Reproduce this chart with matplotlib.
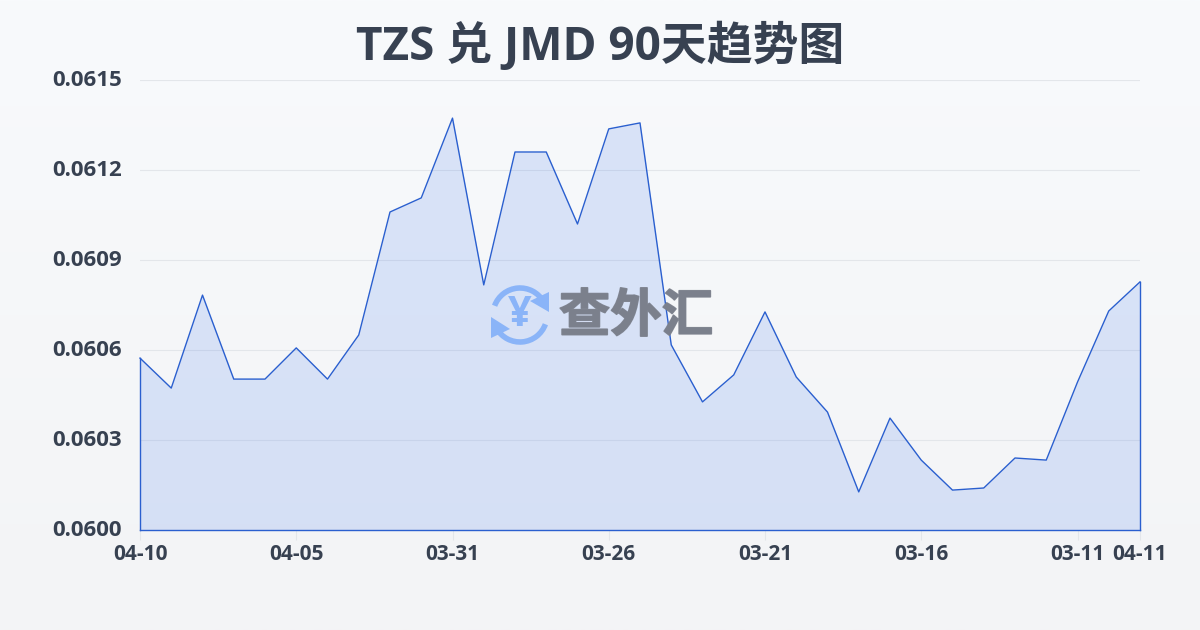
import numpy as np
import matplotlib
matplotlib.use("Agg")
import matplotlib.pyplot as plt
from matplotlib.patches import Arc, Polygon
from matplotlib.transforms import ScaledTranslation
import matplotlib.patheffects as pe

plt.rcParams['font.family'] = ['Open Sans', 'Noto Sans CJK SC', 'DejaVu Sans']

title = "TZS 兑 JMD 90天趋势图"
watermark = "查外汇"
dates = ["04-10", "04-09", "04-08", "04-07", "04-06", "04-05", "04-04", "04-03", "04-02", "04-01",
         "03-31", "03-30", "03-29", "03-28", "03-27", "03-26", "03-25", "03-24", "03-23", "03-22",
         "03-21", "03-20", "03-19", "03-18", "03-17", "03-16", "03-15", "03-14", "03-13", "03-12",
         "03-11", "03-10", "04-11"]
rates = [0.060573, 0.060473, 0.060783, 0.060503, 0.060503, 0.060607, 0.060503, 0.060650,
         0.061060, 0.061107, 0.061373, 0.060817, 0.061260, 0.061260, 0.061020, 0.061337,
         0.061357, 0.060617, 0.060427, 0.060517, 0.060727, 0.060510, 0.060393, 0.060127,
         0.060373, 0.060233, 0.060133, 0.060140, 0.060240, 0.060233, 0.060493, 0.060730,
         0.060827]
y_ticks = [0.0600, 0.0603, 0.0606, 0.0609, 0.0612, 0.0615]
x_tick_idx = [0, 5, 10, 15, 20, 25, 30, 32]

W, H = 1200, 630
fig = plt.figure(figsize=(W / 100, H / 100), dpi=100)

bg = fig.add_axes([0, 0, 1, 1], zorder=0)
grad = np.linspace(0, 1, 256)[:, None, None]
top = np.array([0xf8, 0xfa, 0xfc])[None, None, :] / 255
bot = np.array([0xf3, 0xf4, 0xf6])[None, None, :] / 255
bg.imshow(top + (bot - top) * grad, aspect='auto', extent=[0, 1, 0, 1])
bg.axis('off')

ax = fig.add_axes([140 / W, 1 - 530 / H, 1000 / W, 450 / H], zorder=1)
ax.patch.set_alpha(0)
x = np.arange(len(rates))
line = '#2a5fcf'
ax.fill_between(x, rates, 0.0600, color='#2563eb', alpha=0.14, lw=0, zorder=2)
ax.plot(x, rates, color=line, lw=1.0, zorder=3, clip_on=False)
ax.plot([0, 0], [0.0600, rates[0]], color=line, lw=1.0, zorder=3, clip_on=False)
ax.plot([x[-1], x[-1]], [0.0600, rates[-1]], color=line, lw=1.0, zorder=3, clip_on=False)
ax.set_xlim(0, len(rates) - 1)
ax.set_ylim(0.0600, 0.0615)
ax.set_yticks(y_ticks)
ax.set_yticklabels([f"{v:.4f}" for v in y_ticks], fontsize=16, fontweight='bold', color='#374151')
ax.set_xticks(x_tick_idx)
ax.set_xticklabels([dates[i] for i in x_tick_idx], fontsize=15, fontweight='bold', color='#374151')
ax.grid(axis='y', color='#e3e6ea', lw=0.8)
ax.set_axisbelow(True)
for s in ['top', 'right', 'left']:
    ax.spines[s].set_visible(False)
ax.spines['bottom'].set_color(line)
ax.spines['bottom'].set_linewidth(1.0)
ax.spines['bottom'].set_zorder(4)
ax.tick_params(axis='y', length=0, pad=13)
ax.tick_params(axis='x', length=7.5, width=0.8, color='#e3e6ea', pad=2.5)
shift = ScaledTranslation(0, 2 / 100, fig.dpi_scale_trans)
for lab in ax.get_yticklabels():
    lab.set_transform(lab.get_transform() + shift)

fig.text(0.5, 1 - 46 / H, title, ha='center', va='center', fontsize=33, fontweight='bold', color='#374151', zorder=5)

ov = fig.add_axes([0, 0, 1, 1], zorder=2)
ov.set_xlim(0, W)
ov.set_ylim(H, 0)
ov.axis('off')
ov.patch.set_alpha(0)
blue = '#8ab4f8'
cx, cy, r = 520, 315, 27
ov.add_patch(Arc((cx, cy), 2 * r, 2 * r, theta1=20, theta2=150, color=blue, lw=4))
ov.add_patch(Arc((cx, cy), 2 * r, 2 * r, theta1=200, theta2=330, color=blue, lw=4))
ov.add_patch(Polygon([[549, 312], [530, 301], [549, 292]], color=blue, lw=0))
ov.add_patch(Polygon([[491, 317], [510, 329], [491, 338]], color=blue, lw=0))
ov.text(cx, cy, "¥", ha='center', va='center', fontsize=30, fontweight='bold', color=blue)
wm = ov.text(636, 316, watermark, ha='center', va='center', fontsize=37, fontweight='bold',
             family=['Noto Sans CJK SC', 'DejaVu Sans'], color='#7b808c', alpha=0.92)
wm.set_path_effects([pe.withStroke(linewidth=1.2, foreground='#7b808c')])

fig.savefig('out.png', dpi=100)
